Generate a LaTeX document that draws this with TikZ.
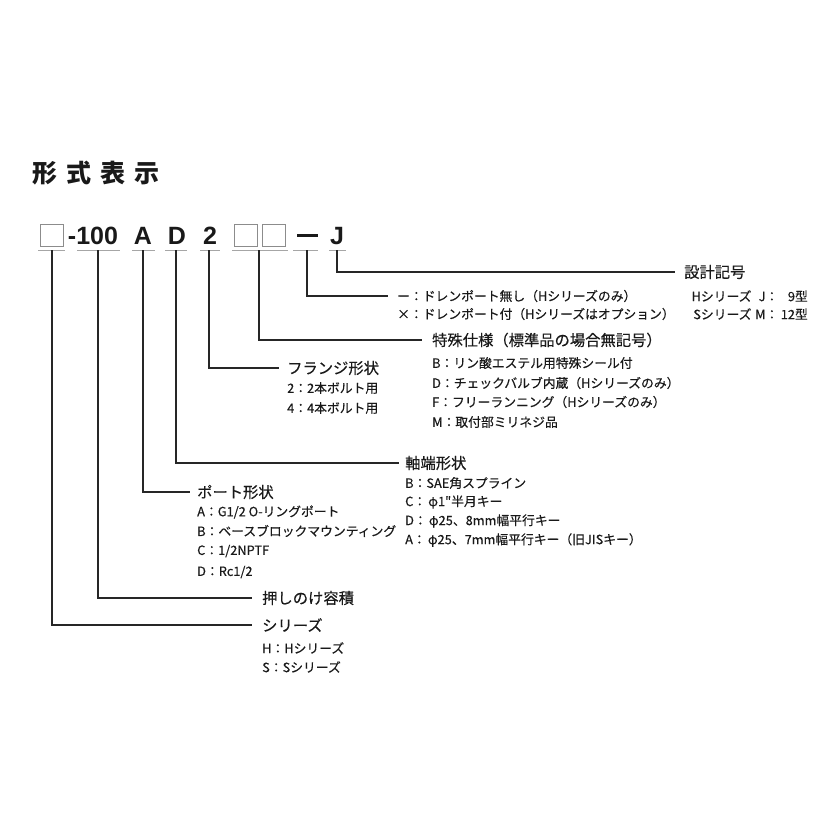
\documentclass[tikz,border=0pt]{standalone}
\usepackage{fontspec}
\setmainfont{Noto Sans CJK JP}
\newfontfamily\medfont{Noto Sans CJK JP}[FakeBold=0.35]
\newfontfamily\latin{Liberation Sans}
\begin{document}
\begin{tikzpicture}[x=1bp,y=-1bp,
  conn/.style={draw=black!85, line width=1.1bp},
  uline/.style={draw=black!35, line width=0.8bp},
  head/.style={anchor=west, inner sep=0pt, text=black!90, font=\medfont\fontsize{15.3bp}{17bp}\selectfont},
  item/.style={anchor=west, inner sep=0pt, text=black!90, font=\medfont\fontsize{12.8bp}{14bp}\selectfont},
  code/.style={inner sep=0pt, text=black!90, font=\latin\bfseries\fontsize{25bp}{28bp}\selectfont},
  cbox/.style={draw=black!45, line width=1bp, minimum width=23bp, minimum height=22bp, inner sep=0pt},
  titlestyle/.style={anchor=west, inner sep=0pt, text=black!90, font=\bfseries\fontsize{25bp}{28bp}\selectfont}]
\useasboundingbox (0,0) rectangle (836,836);
% title
\node[titlestyle] (title) at (32,173) {形\hspace{9bp}式\hspace{9bp}表\hspace{9bp}示};
% code line
\node[cbox] (c1) at (51.5,235) {};
\node[code] (c2) at (93,236) {-100};
\node[code] (c3) at (143,236) {A};
\node[code] (c4) at (177,236) {D};
\node[code] (c5) at (210,236) {2};
\node[cbox] (c6a) at (246,235) {};
\node[cbox] (c6b) at (274,235) {};
\node[inner sep=0pt, fill=black!90, minimum width=21bp, minimum height=3bp] (c7) at (307,235) {};
\node[code] (c8) at (337,236) {J};
% tick coordinates
\coordinate (t1) at (52,250);
\coordinate (t2) at (98,250);
\coordinate (t3) at (143,250);
\coordinate (t4) at (176,250);
\coordinate (t5) at (209,250);
\coordinate (t6) at (259,250);
\coordinate (t7) at (307,250);
\coordinate (t8) at (337,250);
% underlines
\draw[uline] ([xshift=-14bp]t1) -- ([xshift=13bp]t1);
\draw[uline] ([xshift=-21bp]t2) -- ([xshift=22bp]t2);
\draw[uline] ([xshift=-11bp]t3) -- ([xshift=12bp]t3);
\draw[uline] ([xshift=-11bp]t4) -- ([xshift=11bp]t4);
\draw[uline] ([xshift=-9bp]t5) -- ([xshift=11bp]t5);
\draw[uline] ([xshift=-27bp]t6) -- ([xshift=29bp]t6);
\draw[uline] ([xshift=-14bp]t7) -- ([xshift=11bp]t7);
\draw[uline] ([xshift=-8bp]t8) -- ([xshift=9bp]t8);
% headings
\node[head] (h8) at (684,272) {設計記号};
\node[item] (d1) at (397,296) {ー：ドレンポート無し（Hシリーズのみ）};
\node[item] (d2) at (397,314) {×：ドレンポート付（Hシリーズはオプション）};
\node[item, anchor=east] (j1) at (808,296) {Hシリーズ\makebox[1.1em][r]{J}：\makebox[1.3em][r]{9}型};
\node[item, anchor=east] (j2) at (808,314) {Sシリーズ\makebox[1.1em][r]{M}：\makebox[1.3em][r]{12}型};
\node[head] (h6) at (432,340) {特殊仕様（標準品の場合無記号）};
\node[item] (s1) at (432,363) {B：リン酸エステル用特殊シール付};
\node[item] (s2) at (432,383) {D：チェックバルブ内蔵（Hシリーズのみ）};
\node[item] (s3) at (432,402) {F：フリーランニング（Hシリーズのみ）};
\node[item] (s4) at (432,422) {M：取付部ミリネジ品};
\node[head] (h5) at (287,368) {フランジ形状};
\node[item] (f1) at (287,388) {2：2本ボルト用};
\node[item] (f2) at (287,408) {4：4本ボルト用};
\node[head] (h4) at (405,463) {軸端形状};
\node[item] (a1) at (405,483) {B：SAE角スプライン};
\node[item] (a2) at (405,502) {C：\,φ1"半月キー};
\node[item] (a3) at (405,521) {D：\,φ25、8mm幅平行キー};
\node[item] (a4) at (405,540) {A：\,φ25、7mm幅平行キー（旧JISキー）};
\node[head] (h3) at (197,492) {ポート形状};
\node[item] (p1) at (197,512) {A：G1/2 O-リングポート};
\node[item] (p2) at (197,531) {B：ベースブロックマウンティング};
\node[item] (p3) at (197,551) {C：1/2NPTF};
\node[item] (p4) at (197,572) {D：Rc1/2};
\node[head] (h2) at (262,598) {押しのけ容積};
\node[head] (h1) at (262,625) {シリーズ};
\node[item] (r1) at (262,648) {H：Hシリーズ};
\node[item] (r2) at (262,667) {S：Sシリーズ};
% connectors
\draw[conn, shorten >=9bp] (t8) |- (h8.west);
\draw[conn, shorten >=9bp] (t7) |- (d1.west);
\draw[conn, shorten >=10bp] (t6) |- (h6.west);
\draw[conn, shorten >=8bp] (t5) |- (h5.west);
\draw[conn, shorten >=6bp] (t4) |- (h4.west);
\draw[conn, shorten >=7bp] (t3) |- (h3.west);
\draw[conn, shorten >=10bp] (t2) |- (h2.west);
\draw[conn, shorten >=10bp] (t1) |- (h1.west);
\end{tikzpicture}
\end{document}
